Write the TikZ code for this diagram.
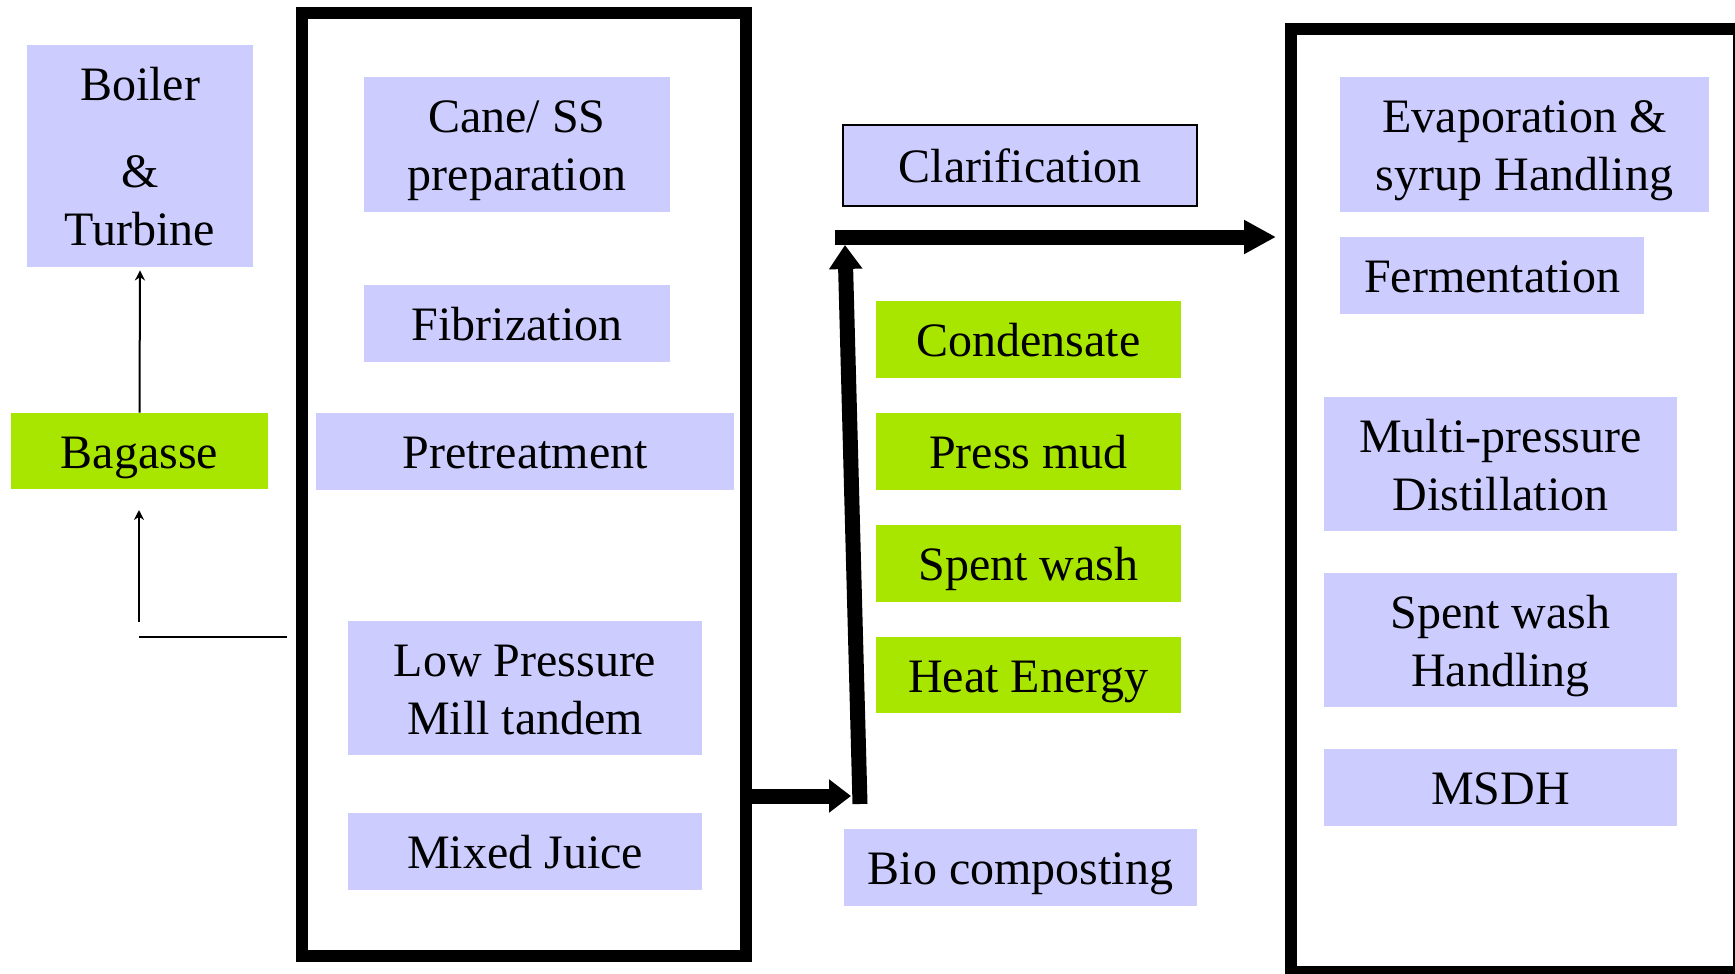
\documentclass[tikz,border=0pt]{standalone}
\usepackage{fontspec}
\setmainfont{Liberation Serif}
\usetikzlibrary{arrows.meta}
\definecolor{lav}{RGB}{204,204,255}
\definecolor{limeg}{RGB}{168,230,0}
\newcommand{\boxstrut}{\rule[-6pt]{0pt}{29pt}}
\begin{document}
\begin{tikzpicture}[x=0.5pt,y=-0.5pt,
  box/.style={fill=lav, inner sep=0pt, align=center, font=\fontsize{24}{29}\selectfont,
    execute at begin node={\boxstrut}, execute at end node={\boxstrut}},
  gbox/.style={box, fill=limeg},
  frame/.style={draw, line width=6pt, inner sep=0pt},
  thinarrow/.style={line width=1pt, -{Stealth[length=5pt,width=5pt]}},
  fatline/.style={line width=7.5pt}]
\useasboundingbox (0,0) rectangle (1735,974);
\clip (0,0) rectangle (1735,974);
\fill[white] (0,0) rectangle (1735,974);
% frames
\node[frame, minimum width=222pt, minimum height=471.5pt] (lbox) at (524,484.5) {};
\node[frame, minimum width=224pt, minimum height=471.5pt] (rbox) at (1515,500.5) {};
% left column
\node[box, minimum width=113pt, minimum height=111pt] (boiler) at (140,156) {\boxstrut Boiler\\[14.5pt]\&\\Turbine};
\node[gbox, minimum width=128.5pt, minimum height=38pt] (bagasse) at (139.5,451) {Bagasse};
% left frame contents
\node[box, minimum width=153pt, minimum height=67.5pt] (cane) at (517,144.5) {\boxstrut Cane/ SS\\preparation};
\node[box, minimum width=153pt, minimum height=38.5pt] (fib) at (517,323.5) {Fibrization};
\node[box, minimum width=209pt, minimum height=38.5pt] (pre) at (525,451.5) {Pretreatment};
\node[box, minimum width=177pt, minimum height=67pt] (lp) at (525,688) {\boxstrut Low Pressure\\Mill tandem};
\node[box, minimum width=177pt, minimum height=38.5pt] (mj) at (525,851.5) {Mixed Juice};
% middle column
\node[box, draw=black, line width=1pt, minimum width=177pt, minimum height=40.5pt] (clar) at (1020,165.5) {Clarification};
\node[gbox, minimum width=152.5pt, minimum height=38.5pt] (cond) at (1028.5,339.5) {Condensate};
\node[gbox, minimum width=152.5pt, minimum height=38.5pt] (press) at (1028.5,451.5) {Press mud};
\node[gbox, minimum width=152.5pt, minimum height=38.5pt] (spent) at (1028.5,563.5) {Spent wash};
\node[gbox, minimum width=152.5pt, minimum height=38pt] (heat) at (1028.5,675) {Heat Energy};
\node[box, minimum width=176.5pt, minimum height=38.5pt] (bio) at (1020.5,867.5) {Bio composting};
% right frame contents
\node[box, minimum width=184.5pt, minimum height=67.5pt] (evap) at (1524.5,144.5) {\boxstrut Evaporation \&\\syrup Handling};
\node[box, minimum width=152pt, minimum height=38.5pt] (ferm) at (1492,275.5) {Fermentation};
\node[box, minimum width=176.5pt, minimum height=67pt] (mpd) at (1500.5,464) {\boxstrut Multi-pressure\\Distillation};
\node[box, minimum width=176.5pt, minimum height=67pt] (swh) at (1500.5,640) {\boxstrut Spent wash\\Handling};
\node[box, minimum width=176.5pt, minimum height=38.5pt] (msdh) at (1500.5,787.5) {MSDH};
% thin connectors
\draw[thinarrow, shorten >=1.5pt] (bagasse.north) -- (boiler.south);
\coordinate (h1) at (287,637);
\coordinate (h2) at (139,637);
\draw[line width=1.3pt] (h1) -- (h2);
\coordinate (u1) at (139,622);
\coordinate (u2) at (139,510);
\draw[thinarrow] (u1) -- (u2);
% thick connectors
\coordinate (a1) at (745,796);
\coordinate (a2) at (851,796);
\draw[fatline, -{Triangle[length=11pt,width=16pt]}] (a1) -- (a2);
\coordinate (b1) at (860,804);
\coordinate (b2) at (845,245);
\draw[fatline, -{Triangle[length=12pt,width=16pt]}] (b1) -- (b2);
\coordinate (c1) at (835,237);
\coordinate (c2) at (1276,237);
\draw[fatline, -{Triangle[length=16pt,width=16pt]}] (c1) -- (c2);
\end{tikzpicture}
\end{document}
